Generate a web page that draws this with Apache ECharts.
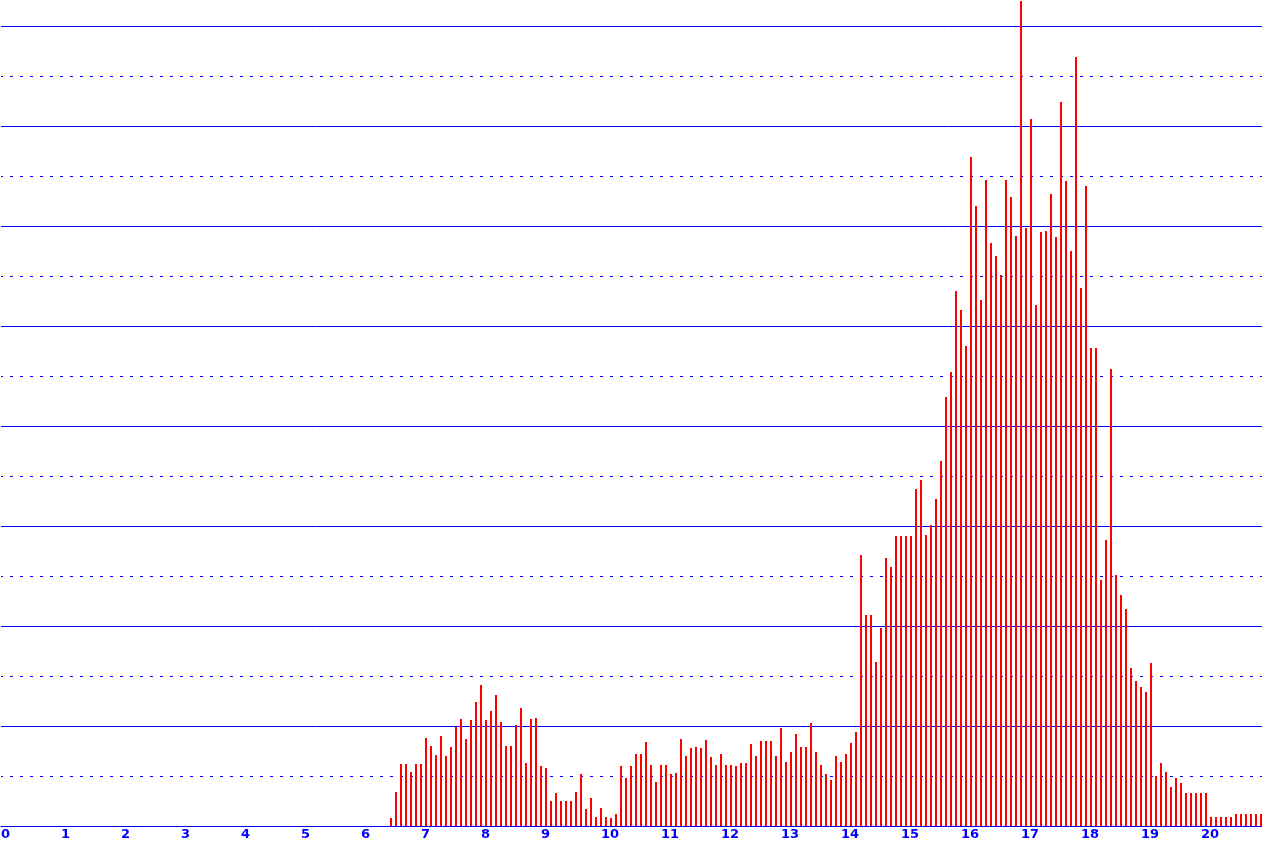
<!DOCTYPE html>
<html><head><meta charset="utf-8">
<script src="https://cdn.jsdelivr.net/npm/echarts@6/dist/echarts.min.js"></script>
<style>html,body{margin:0;padding:0;background:#fff}#c{width:1262px;height:846px}</style>
</head><body><div id="c"></div>
<script>
// bins of 5 minutes, starting at 6:30 (hours on x axis)
const startHour = 6.5;
const stepHours = 1 / 12;
const counts = [
  8, 34, 62, 62, 54, 62, 62, 88, 80, 71, 90, 70, 79, 99, 107, 87, 106, 124, 141, 106,
  115, 131, 104, 80, 80, 101, 118, 63, 107, 108, 60, 58, 25, 33, 25, 25, 25, 34, 52, 17,
  28, 9, 18, 9, 8, 12, 60, 48, 60, 72, 72, 84, 61, 44, 61, 61, 52, 53, 87, 70,
  78, 79, 78, 86, 69, 61, 72, 61, 61, 60, 63, 63, 82, 70, 85, 85, 85, 70, 98, 64,
  74, 92, 79, 79, 103, 74, 61, 52, 46, 70, 64, 72, 83, 94, 271, 211, 211, 164, 198, 268,
  259, 290, 290, 290, 290, 337, 346, 291, 301, 327, 365, 429, 454, 535, 516, 480, 669, 620, 526, 646,
  583, 570, 551, 646, 629, 590, 825, 598, 707, 521, 594, 595, 632, 589, 724, 645, 575, 769, 538, 640,
  478, 478, 246, 286, 457, 251, 231, 217, 158, 145, 139, 134, 163, 50, 63, 54, 39, 48, 43, 33,
  33, 33, 33, 33, 9, 9, 9, 9, 9, 12, 12, 12, 12, 12, 12
];
const xTickLabels = ['0','1','2','3','4','5','6','7','8','9','10','11','12','13','14','15','16','17','18','19','20'];

const data = counts.map((c, i) => [startHour + i * stepHours, c]);

const chart = echarts.init(document.getElementById('c'), null, {renderer: 'canvas'});
chart.setOption({
  animation: false,
  backgroundColor: '#ffffff',
  grid: {left: 1, top: 0, width: 1262, height: 826, containLabel: false, outerBoundsMode: 'none'},
  xAxis: {
    type: 'value', min: 0, max: 1262 / 60, interval: 1,
    axisLine: {show: true, lineStyle: {color: '#0000ff', width: 1}},
    axisTick: {show: false},
    splitLine: {show: false},
    axisLabel: {
      show: true, color: '#0000ff', fontFamily: 'DejaVu Sans', fontSize: 13, fontWeight: 'bold',
      margin: 2, align: 'left', hideOverlap: false,
      formatter: v => (Number.isInteger(v) && v < xTickLabels.length) ? xTickLabels[v] : ''
    }
  },
  yAxis: [
    {
      type: 'value', min: 0, max: 826, interval: 100,
      axisLine: {show: false}, axisTick: {show: false}, axisLabel: {show: false},
      splitLine: {show: true, showMinLine: false, showMaxLine: false, lineStyle: {color: '#0000ff', width: 1, type: 'solid'}}
    },
    {
      type: 'value', min: 0, max: 826, interval: 50,
      axisLine: {show: false}, axisTick: {show: false}, axisLabel: {show: false},
      splitLine: {show: true, showMinLine: false, showMaxLine: false, lineStyle: {color: '#0000ff', width: 1, type: [3, 7], dashOffset: 1}}
    }
  ],
  series: [{
    type: 'bar', data: data, barWidth: 2, yAxisIndex: 0,
    itemStyle: {color: '#ff0000'},
    emphasis: {disabled: true}
  }]
});
</script>
</body></html>
